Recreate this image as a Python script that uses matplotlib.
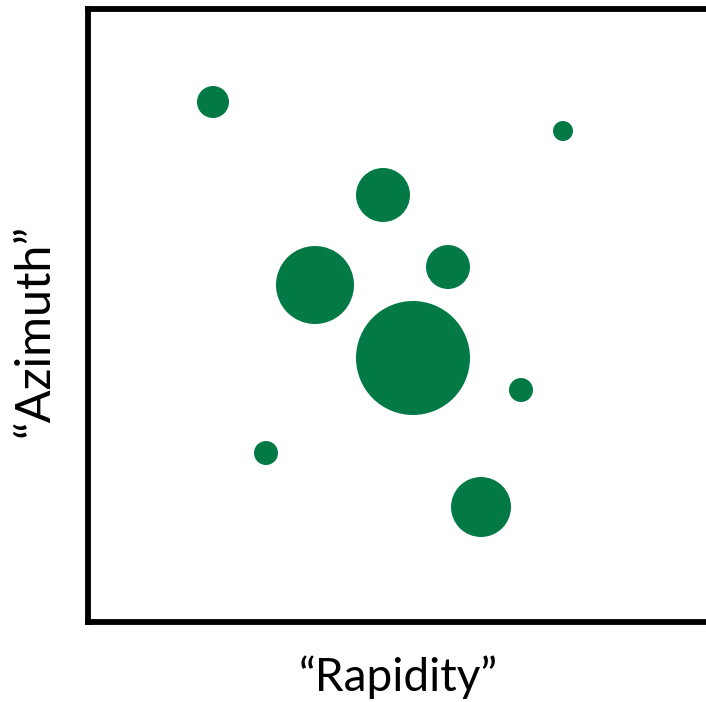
import matplotlib
matplotlib.use("Agg")
import matplotlib.pyplot as plt

# circle centres (pixel-ish units inside the frame) and radii
xs = [125, 475, 295, 227, 360, 325, 433, 178, 393]
ys = [520, 491, 427, 337, 355, 264, 232, 169, 115]
radii = [16, 10, 27, 39, 22, 57, 12, 12, 30]

green = "#037A45"

fig = plt.figure(figsize=(7.06, 7.02), dpi=100)
ax = fig.add_axes([88 / 706, 80 / 702, 621 / 706, 613 / 702])
ax.set_xlim(0, 621)
ax.set_ylim(0, 613)

# marker size in points^2 from radius in pixels
sizes = [(2 * r * 72 / 100) ** 2 for r in radii]
ax.scatter(xs, ys, s=sizes, color=green, edgecolors="none")

ax.set_xticks([])
ax.set_yticks([])
for sp in ax.spines.values():
    sp.set_linewidth(4.2)
    sp.set_color("black")

ax.set_xlabel("\u201cRapidity\u201d", fontsize=33, family="Lato", labelpad=24)
ax.set_ylabel("\u201cAzimuth\u201d", fontsize=35, family="Lato")
ax.yaxis.set_label_coords(-0.05, 0.476)

fig.savefig("out.png", dpi=100)
